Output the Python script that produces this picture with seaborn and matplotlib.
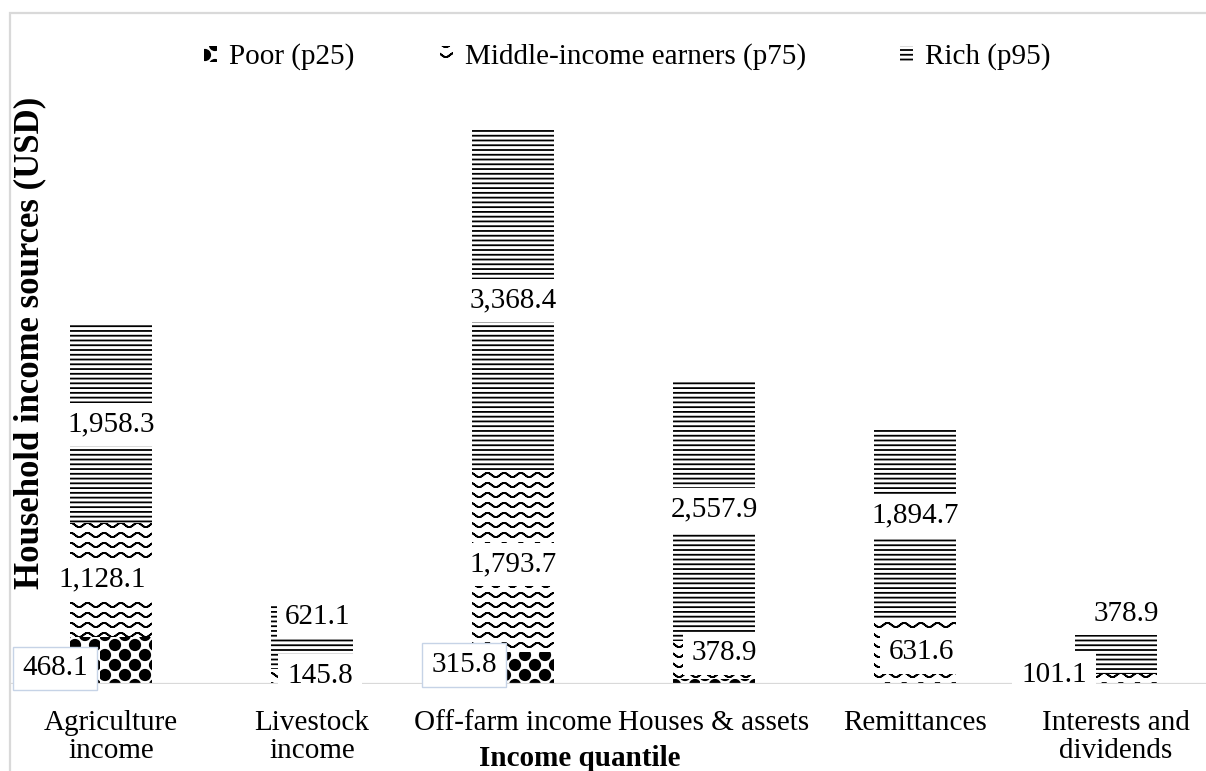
import warnings

import numpy as np
import pandas as pd
import matplotlib
matplotlib.use("Agg")
import matplotlib.pyplot as plt
import matplotlib.hatch as mhatch
from matplotlib.path import Path
from matplotlib.patches import Patch, Rectangle
import seaborn as sns

# custom hatch characters ("=", "~", "b") are not in matplotlib's built-in list
warnings.filterwarnings("ignore", category=matplotlib.MatplotlibDeprecationWarning)

# ---------------------------------------------------------------- data
categories = ["Agriculture\nincome", "Livestock\nincome", "Off-farm income",
              "Houses & assets", "Remittances", "Interests and\ndividends"]
series_names = ["Poor (p25)", "Middle-income earners (p75)", "Rich (p95)"]
poor = [468.1, 0.0, 315.8, 45.0, 0.0, 0.0]
middle = [1128.1, 145.8, 1793.7, 378.9, 631.6, 101.1]
rich = [1958.3, 621.1, 3368.4, 2557.9, 1894.7, 378.9]
poor_labelled = [True, False, True, False, False, False]


# ---------------------------------------------------------------- hatches
class StripeHatch(mhatch.HatchPatternBase):
    """Dense horizontal rules, 21 per hatch tile for each '='."""

    def __init__(self, hatch, density):
        self.num_lines = hatch.count("=") * 21
        self.num_vertices = self.num_lines * 2

    def set_vertices_and_codes(self, vertices, codes):
        ys = (np.arange(self.num_lines) + 0.5) / self.num_lines
        vertices[0::2, 0] = 0.0
        vertices[0::2, 1] = ys
        vertices[1::2, 0] = 1.0
        vertices[1::2, 1] = ys
        codes[0::2] = Path.MOVETO
        codes[1::2] = Path.LINETO


class WaveHatch(mhatch.HatchPatternBase):
    """Horizontal sine waves for each '~'."""
    rows = 10
    periods = 6
    amp = 0.021
    steps = 120

    def __init__(self, hatch, density):
        self.num_rows = hatch.count("~") * self.rows
        self.num_vertices = self.num_rows * (self.steps + 1) * 2

    def set_vertices_and_codes(self, vertices, codes):
        x = np.linspace(0.0, 1.0, self.steps + 1)
        verts, cods = [], []
        for r in range(self.num_rows):
            y = (r + 0.5) / self.num_rows + self.amp * np.sin(2 * np.pi * self.periods * x)
            fwd = np.column_stack([x, y])
            # out and back along the same curve so the filled area is empty
            seg = np.vstack([fwd, fwd[::-1]])
            c = np.full(len(seg), Path.LINETO, dtype=Path.code_type)
            c[0] = Path.MOVETO
            verts.append(seg)
            cods.append(c)
        vertices[:] = np.concatenate(verts)
        codes[:] = np.concatenate(cods)


class BallHatch(mhatch.HatchPatternBase):
    """Filled balls on a checkerboard for each 'b'."""
    cells = 10
    radius = 0.52

    def __init__(self, hatch, density):
        n = hatch.count("b")
        circle = Path.unit_circle()
        self.circle_v = circle.vertices
        self.circle_c = circle.codes
        self.num_balls = (self.cells * self.cells // 2) if n else 0
        self.num_vertices = self.num_balls * len(self.circle_v)

    def set_vertices_and_codes(self, vertices, codes):
        step = 1.0 / self.cells
        verts, cods = [], []
        for i in range(self.cells):
            for j in range(self.cells):
                if (i + j) % 2:
                    continue
                centre = np.array([(i + 0.5) * step, (j + 0.5) * step])
                verts.append(self.circle_v * step * self.radius + centre)
                cods.append(self.circle_c)
        vertices[:] = np.concatenate(verts)
        codes[:] = np.concatenate(cods)


mhatch._hatch_types.extend([StripeHatch, WaveHatch, BallHatch])
series_hatches = ["b", "~", "="]

# ---------------------------------------------------------------- style
sns.set_style("white")
plt.rcParams["font.family"] = ["Liberation Serif", "DejaVu Serif"]
plt.rcParams["text.color"] = "black"
plt.rcParams["axes.labelcolor"] = "black"
plt.rcParams["xtick.color"] = "black"
plt.rcParams["hatch.linewidth"] = 1.3
plt.rcParams["hatch.color"] = "black"

FS = 21

df = pd.DataFrame({"source": categories, "poor": poor, "middle": middle, "rich": rich})
df["mid_top"] = df["poor"] + df["middle"]
df["rich_top"] = df["mid_top"] + df["rich"]

W, H = 1206, 771
fig = plt.figure(figsize=(W / 100, H / 100), dpi=100)
fig.patch.set_facecolor("white")
ax = fig.add_axes([10.5 / W, 87 / H, 1206 / W, 606.7 / H])
ax.patch.set_alpha(0)

# stacked bars: cumulative totals drawn back to front
for col, hatch in [("rich_top", "="), ("mid_top", "~"), ("poor", "b")]:
    sns.barplot(data=df, x="source", y=col, order=categories, color="white",
                saturation=1, width=0.405, hatch=hatch, edgecolor="black",
                linewidth=0, errorbar=None, ax=ax)

ax.set_xlim(-0.5, 5.5)
ax.set_ylim(0, 6000)
ax.set_yticks([])
for s in ax.spines.values():
    s.set_visible(False)
ax.axhline(0, color="#d9d9d9", lw=1.6, zorder=1)

ax.tick_params(axis="x", length=0, pad=19, labelsize=FS, labelcolor="black")
for t in ax.get_xticklabels():
    t.set_linespacing(1.1)

ax.set_xlabel("Income quantile", fontsize=FS, fontweight="bold")
ax.xaxis.set_label_coords((580 - 10.5) / 1206, (684 - 759) / 606.7)
ax.xaxis.label.set_va("center")
ax.set_ylabel("Household income sources (USD)", fontsize=25, fontweight="bold")
ax.yaxis.set_label_coords((30 - 10.5) / 1206, (684 - 343) / 606.7)
ax.yaxis.label.set_va("center")

# data labels (offsets in pixels: right, down)
label_shift = {
    (0, 0): (-56, 8), (0, 1): (-9, 0), (0, 2): (0, 1),
    (1, 1): (8, -1), (1, 2): (6, -21),
    (2, 0): (-49, -3), (2, 1): (0, 3), (2, 2): (0, 0),
    (3, 1): (10, -7), (3, 2): (0, -2),
    (4, 1): (6, 0), (4, 2): (0, -9),
    (5, 1): (-62, -4), (5, 2): (10, -41),
}
outlined = {(0, 0), (2, 0)}
series = [poor, middle, rich]
for i in range(len(categories)):
    base = 0.0
    for k, vals in enumerate(series):
        v = vals[i]
        show = v > 0 and (k > 0 or poor_labelled[i])
        if show:
            dx, dy = label_shift.get((i, k), (0, 0))
            box = dict(boxstyle="square,pad=0.3", fc="white",
                       ec="#c6d3e6" if (i, k) in outlined else "none", lw=1)
            ax.annotate(f"{v:,.1f}", xy=(i, base + v / 2), xytext=(dx * 0.72, -dy * 0.72),
                        textcoords="offset points", ha="center", va="center",
                        fontsize=FS, bbox=box, zorder=5)
        base += v

# legend entries across the top
legend_x = [204, 440, 900]
for name, hatch, x in zip(series_names, series_hatches, legend_x):
    h = Patch(facecolor="white", edgecolor="black", linewidth=0, hatch=hatch)
    fig.legend(handles=[h], labels=[name], loc="center left",
               bbox_to_anchor=(x / W, 1 - 57 / H), frameon=False, fontsize=FS,
               handlelength=0.45, handleheight=0.45, handletextpad=0.4,
               borderpad=0, borderaxespad=0)

# chart frame
fig.add_artist(Rectangle((10 / W, -0.1), 1.2, 1 - 13 / H + 0.1, transform=fig.transFigure,
                         fill=False, edgecolor="#d9d9d9", lw=1.6, zorder=0))

fig.savefig("out.png", dpi=100)
